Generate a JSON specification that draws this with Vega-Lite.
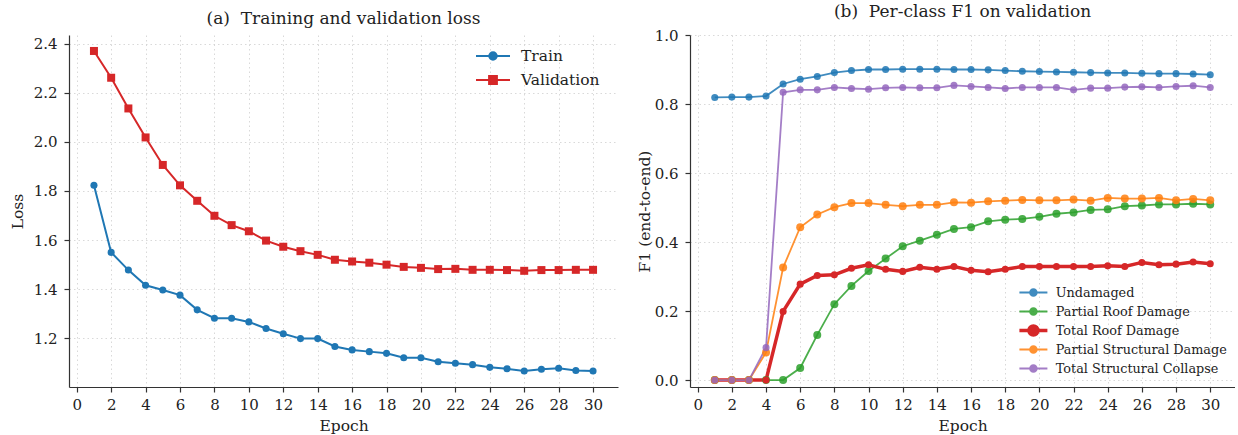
{
  "$schema": "https://vega.github.io/schema/vega-lite/v6.json",
  "padding": {"left": 10, "top": 3, "right": 0, "bottom": 0},
  "background": "white",
  "config": {
    "font": "DejaVu Serif",
    "view": {"stroke": null},
    "axis": {
      "domainColor": "#333333", "domainWidth": 1.2, "tickColor": "#333333", "tickWidth": 1.2, "tickSize": 5,
      "labelColor": "#222222", "titleColor": "#222222", "labelFont": "DejaVu Serif", "titleFont": "DejaVu Serif",
      "labelFontSize": 15, "titleFontSize": 15.5, "titleFontWeight": "normal", "labelPadding": 5,
      "gridColor": "#cfcfcf", "gridDash": [1.5, 3], "gridWidth": 0.8, "labelFlush": false, "labelOverlap": false
    },
    "legend": {"labelFont": "DejaVu Serif", "labelColor": "#222222", "labelLimit": 400},
    "title": {"font": "DejaVu Serif", "fontSize": 17, "fontWeight": "normal", "color": "#222222", "anchor": "middle", "offset": 7}
  },
  "resolve": {"scale": {"color": "independent", "x": "independent", "y": "independent"}, "legend": {"color": "independent"}},
  "datasets": {
    "loss": [
      {"e":1,"s":"Train","v":1.823},{"e":2,"s":"Train","v":1.550},{"e":3,"s":"Train","v":1.478},{"e":4,"s":"Train","v":1.416},{"e":5,"s":"Train","v":1.397},
      {"e":6,"s":"Train","v":1.376},{"e":7,"s":"Train","v":1.316},{"e":8,"s":"Train","v":1.282},{"e":9,"s":"Train","v":1.282},{"e":10,"s":"Train","v":1.267},
      {"e":11,"s":"Train","v":1.240},{"e":12,"s":"Train","v":1.219},{"e":13,"s":"Train","v":1.199},{"e":14,"s":"Train","v":1.199},{"e":15,"s":"Train","v":1.167},
      {"e":16,"s":"Train","v":1.153},{"e":17,"s":"Train","v":1.146},{"e":18,"s":"Train","v":1.139},{"e":19,"s":"Train","v":1.121},{"e":20,"s":"Train","v":1.121},
      {"e":21,"s":"Train","v":1.105},{"e":22,"s":"Train","v":1.099},{"e":23,"s":"Train","v":1.093},{"e":24,"s":"Train","v":1.082},{"e":25,"s":"Train","v":1.076},
      {"e":26,"s":"Train","v":1.067},{"e":27,"s":"Train","v":1.074},{"e":28,"s":"Train","v":1.078},{"e":29,"s":"Train","v":1.069},{"e":30,"s":"Train","v":1.067},
      {"e":1,"s":"Validation","v":2.370},{"e":2,"s":"Validation","v":2.261},{"e":3,"s":"Validation","v":2.136},{"e":4,"s":"Validation","v":2.018},{"e":5,"s":"Validation","v":1.906},
      {"e":6,"s":"Validation","v":1.823},{"e":7,"s":"Validation","v":1.760},{"e":8,"s":"Validation","v":1.699},{"e":9,"s":"Validation","v":1.661},{"e":10,"s":"Validation","v":1.636},
      {"e":11,"s":"Validation","v":1.598},{"e":12,"s":"Validation","v":1.573},{"e":13,"s":"Validation","v":1.555},{"e":14,"s":"Validation","v":1.540},{"e":15,"s":"Validation","v":1.520},
      {"e":16,"s":"Validation","v":1.513},{"e":17,"s":"Validation","v":1.508},{"e":18,"s":"Validation","v":1.500},{"e":19,"s":"Validation","v":1.491},{"e":20,"s":"Validation","v":1.487},
      {"e":21,"s":"Validation","v":1.482},{"e":22,"s":"Validation","v":1.483},{"e":23,"s":"Validation","v":1.479},{"e":24,"s":"Validation","v":1.479},{"e":25,"s":"Validation","v":1.478},
      {"e":26,"s":"Validation","v":1.475},{"e":27,"s":"Validation","v":1.478},{"e":28,"s":"Validation","v":1.478},{"e":29,"s":"Validation","v":1.479},{"e":30,"s":"Validation","v":1.479}
    ],
    "f1": [
      {"e":1,"c":"Undamaged","v":0.819},{"e":2,"c":"Undamaged","v":0.820},{"e":3,"c":"Undamaged","v":0.820},{"e":4,"c":"Undamaged","v":0.823},{"e":5,"c":"Undamaged","v":0.858},
      {"e":6,"c":"Undamaged","v":0.872},{"e":7,"c":"Undamaged","v":0.880},{"e":8,"c":"Undamaged","v":0.891},{"e":9,"c":"Undamaged","v":0.897},{"e":10,"c":"Undamaged","v":0.900},
      {"e":11,"c":"Undamaged","v":0.900},{"e":12,"c":"Undamaged","v":0.901},{"e":13,"c":"Undamaged","v":0.901},{"e":14,"c":"Undamaged","v":0.901},{"e":15,"c":"Undamaged","v":0.900},
      {"e":16,"c":"Undamaged","v":0.900},{"e":17,"c":"Undamaged","v":0.899},{"e":18,"c":"Undamaged","v":0.897},{"e":19,"c":"Undamaged","v":0.895},{"e":20,"c":"Undamaged","v":0.894},
      {"e":21,"c":"Undamaged","v":0.893},{"e":22,"c":"Undamaged","v":0.892},{"e":23,"c":"Undamaged","v":0.891},{"e":24,"c":"Undamaged","v":0.890},{"e":25,"c":"Undamaged","v":0.890},
      {"e":26,"c":"Undamaged","v":0.889},{"e":27,"c":"Undamaged","v":0.888},{"e":28,"c":"Undamaged","v":0.888},{"e":29,"c":"Undamaged","v":0.887},{"e":30,"c":"Undamaged","v":0.885},
      {"e":1,"c":"Partial Roof Damage","v":0},{"e":2,"c":"Partial Roof Damage","v":0},{"e":3,"c":"Partial Roof Damage","v":0},{"e":4,"c":"Partial Roof Damage","v":0},{"e":5,"c":"Partial Roof Damage","v":0},
      {"e":6,"c":"Partial Roof Damage","v":0.035},{"e":7,"c":"Partial Roof Damage","v":0.131},{"e":8,"c":"Partial Roof Damage","v":0.220},{"e":9,"c":"Partial Roof Damage","v":0.273},{"e":10,"c":"Partial Roof Damage","v":0.316},
      {"e":11,"c":"Partial Roof Damage","v":0.352},{"e":12,"c":"Partial Roof Damage","v":0.388},{"e":13,"c":"Partial Roof Damage","v":0.404},{"e":14,"c":"Partial Roof Damage","v":0.421},{"e":15,"c":"Partial Roof Damage","v":0.438},
      {"e":16,"c":"Partial Roof Damage","v":0.443},{"e":17,"c":"Partial Roof Damage","v":0.460},{"e":18,"c":"Partial Roof Damage","v":0.465},{"e":19,"c":"Partial Roof Damage","v":0.467},{"e":20,"c":"Partial Roof Damage","v":0.473},
      {"e":21,"c":"Partial Roof Damage","v":0.482},{"e":22,"c":"Partial Roof Damage","v":0.486},{"e":23,"c":"Partial Roof Damage","v":0.493},{"e":24,"c":"Partial Roof Damage","v":0.495},{"e":25,"c":"Partial Roof Damage","v":0.504},
      {"e":26,"c":"Partial Roof Damage","v":0.506},{"e":27,"c":"Partial Roof Damage","v":0.509},{"e":28,"c":"Partial Roof Damage","v":0.509},{"e":29,"c":"Partial Roof Damage","v":0.511},{"e":30,"c":"Partial Roof Damage","v":0.509},
      {"e":1,"c":"Total Roof Damage","v":0},{"e":2,"c":"Total Roof Damage","v":0},{"e":3,"c":"Total Roof Damage","v":0},{"e":4,"c":"Total Roof Damage","v":0},{"e":5,"c":"Total Roof Damage","v":0.199},
      {"e":6,"c":"Total Roof Damage","v":0.278},{"e":7,"c":"Total Roof Damage","v":0.303},{"e":8,"c":"Total Roof Damage","v":0.305},{"e":9,"c":"Total Roof Damage","v":0.324},{"e":10,"c":"Total Roof Damage","v":0.334},
      {"e":11,"c":"Total Roof Damage","v":0.321},{"e":12,"c":"Total Roof Damage","v":0.315},{"e":13,"c":"Total Roof Damage","v":0.327},{"e":14,"c":"Total Roof Damage","v":0.321},{"e":15,"c":"Total Roof Damage","v":0.329},
      {"e":16,"c":"Total Roof Damage","v":0.318},{"e":17,"c":"Total Roof Damage","v":0.314},{"e":18,"c":"Total Roof Damage","v":0.321},{"e":19,"c":"Total Roof Damage","v":0.329},{"e":20,"c":"Total Roof Damage","v":0.329},
      {"e":21,"c":"Total Roof Damage","v":0.329},{"e":22,"c":"Total Roof Damage","v":0.329},{"e":23,"c":"Total Roof Damage","v":0.329},{"e":24,"c":"Total Roof Damage","v":0.331},{"e":25,"c":"Total Roof Damage","v":0.329},
      {"e":26,"c":"Total Roof Damage","v":0.341},{"e":27,"c":"Total Roof Damage","v":0.334},{"e":28,"c":"Total Roof Damage","v":0.336},{"e":29,"c":"Total Roof Damage","v":0.342},{"e":30,"c":"Total Roof Damage","v":0.337},
      {"e":1,"c":"Partial Structural Damage","v":0},{"e":2,"c":"Partial Structural Damage","v":0},{"e":3,"c":"Partial Structural Damage","v":0},{"e":4,"c":"Partial Structural Damage","v":0.080},{"e":5,"c":"Partial Structural Damage","v":0.326},
      {"e":6,"c":"Partial Structural Damage","v":0.443},{"e":7,"c":"Partial Structural Damage","v":0.480},{"e":8,"c":"Partial Structural Damage","v":0.501},{"e":9,"c":"Partial Structural Damage","v":0.513},{"e":10,"c":"Partial Structural Damage","v":0.513},
      {"e":11,"c":"Partial Structural Damage","v":0.508},{"e":12,"c":"Partial Structural Damage","v":0.504},{"e":13,"c":"Partial Structural Damage","v":0.508},{"e":14,"c":"Partial Structural Damage","v":0.508},{"e":15,"c":"Partial Structural Damage","v":0.515},
      {"e":16,"c":"Partial Structural Damage","v":0.514},{"e":17,"c":"Partial Structural Damage","v":0.518},{"e":18,"c":"Partial Structural Damage","v":0.520},{"e":19,"c":"Partial Structural Damage","v":0.522},{"e":20,"c":"Partial Structural Damage","v":0.521},
      {"e":21,"c":"Partial Structural Damage","v":0.521},{"e":22,"c":"Partial Structural Damage","v":0.523},{"e":23,"c":"Partial Structural Damage","v":0.520},{"e":24,"c":"Partial Structural Damage","v":0.528},{"e":25,"c":"Partial Structural Damage","v":0.526},
      {"e":26,"c":"Partial Structural Damage","v":0.526},{"e":27,"c":"Partial Structural Damage","v":0.528},{"e":28,"c":"Partial Structural Damage","v":0.521},{"e":29,"c":"Partial Structural Damage","v":0.525},{"e":30,"c":"Partial Structural Damage","v":0.521},
      {"e":1,"c":"Total Structural Collapse","v":0},{"e":2,"c":"Total Structural Collapse","v":0},{"e":3,"c":"Total Structural Collapse","v":0},{"e":4,"c":"Total Structural Collapse","v":0.094},{"e":5,"c":"Total Structural Collapse","v":0.834},
      {"e":6,"c":"Total Structural Collapse","v":0.841},{"e":7,"c":"Total Structural Collapse","v":0.841},{"e":8,"c":"Total Structural Collapse","v":0.848},{"e":9,"c":"Total Structural Collapse","v":0.845},{"e":10,"c":"Total Structural Collapse","v":0.843},
      {"e":11,"c":"Total Structural Collapse","v":0.847},{"e":12,"c":"Total Structural Collapse","v":0.848},{"e":13,"c":"Total Structural Collapse","v":0.847},{"e":14,"c":"Total Structural Collapse","v":0.847},{"e":15,"c":"Total Structural Collapse","v":0.854},
      {"e":16,"c":"Total Structural Collapse","v":0.851},{"e":17,"c":"Total Structural Collapse","v":0.848},{"e":18,"c":"Total Structural Collapse","v":0.845},{"e":19,"c":"Total Structural Collapse","v":0.848},{"e":20,"c":"Total Structural Collapse","v":0.848},
      {"e":21,"c":"Total Structural Collapse","v":0.848},{"e":22,"c":"Total Structural Collapse","v":0.841},{"e":23,"c":"Total Structural Collapse","v":0.846},{"e":24,"c":"Total Structural Collapse","v":0.846},{"e":25,"c":"Total Structural Collapse","v":0.849},
      {"e":26,"c":"Total Structural Collapse","v":0.850},{"e":27,"c":"Total Structural Collapse","v":0.848},{"e":28,"c":"Total Structural Collapse","v":0.851},{"e":29,"c":"Total Structural Collapse","v":0.853},{"e":30,"c":"Total Structural Collapse","v":0.848}
    ]
  },
  "bounds": "flush",
  "spacing": 72,
  "hconcat": [
    {
      "width": 549,
      "height": 352,
      "title": {"text": "(a)\u00a0 Training and validation loss"},
      "data": {"name": "loss"},
      "encoding": {
        "x": {"field": "e", "type": "quantitative", "scale": {"domain": [-0.45, 31.45], "nice": false, "zero": false},
              "axis": {"title": "Epoch", "values": [0,2,4,6,8,10,12,14,16,18,20,22,24,26,28,30], "titlePadding": 6}},
        "y": {"field": "v", "type": "quantitative", "scale": {"domain": [1.002, 2.435], "nice": false, "zero": false},
              "axis": {"title": "Loss", "values": [1.2,1.4,1.6,1.8,2.0,2.2,2.4], "format": ".1f", "titlePadding": 8, "labelPadding": 7}},
        "color": {"field": "s", "type": "nominal", "scale": {"domain": ["Train", "Validation"], "range": ["#1f77b4", "#d62728"]},
                  "legend": {"title": null, "orient": "none", "legendX": 406, "legendY": 9, "padding": 0, "labelFontSize": 15.5, "labelOffset": 10,
                             "symbolSize": 1156, "clipHeight": 24, "rowPadding": 0, "symbolStrokeWidth": 2,
                             "encode": {"symbols": {"update": {
                               "shape": {"signal": "datum.value === 'Train' ? 'M-1,0H1M0.22,0A0.22,0.22,0,1,1,-0.22,0A0.22,0.22,0,1,1,0.22,0Z' : 'M-1,0H1M-0.23,-0.23H0.23V0.23H-0.23Z'"},
                               "size": {"value": 1156},
                               "fill": {"signal": "datum.value === 'Train' ? '#1f77b4' : '#d62728'"},
                               "stroke": {"signal": "datum.value === 'Train' ? '#1f77b4' : '#d62728'"},
                               "strokeWidth": {"value": 2},
                               "opacity": {"value": 1}
                             }}}}}
      },
      "layer": [
        {"mark": {"type": "line", "strokeWidth": 2}},
        {"mark": {"type": "point", "filled": true, "opacity": 1, "strokeWidth": 0},
         "encoding": {"shape": {"field": "s", "type": "nominal", "scale": {"type": "ordinal", "domain": ["Train", "Validation"], "range": ["circle", "square"]}, "legend": null},
                      "size": {"field": "s", "type": "nominal", "scale": {"type": "ordinal", "domain": ["Train", "Validation"], "range": [50, 64]}, "legend": null}}}
      ]
    },
    {
      "width": 545,
      "height": 352,
      "title": {"text": "(b)\u00a0 Per-class F1 on validation"},
      "data": {"name": "f1"},
      "encoding": {
        "x": {"field": "e", "type": "quantitative", "scale": {"domain": [-0.45, 31.45], "nice": false, "zero": false},
              "axis": {"title": "Epoch", "values": [0,2,4,6,8,10,12,14,16,18,20,22,24,26,28,30], "titlePadding": 6}},
        "y": {"field": "v", "type": "quantitative", "scale": {"domain": [-0.02, 1.0], "nice": false, "zero": false},
              "axis": {"title": "F1 (end-to-end)", "values": [0,0.2,0.4,0.6,0.8,1.0], "format": ".1f", "titlePadding": 2, "labelPadding": 7}},
        "color": {"field": "c", "type": "nominal",
                  "scale": {"domain": ["Undamaged", "Partial Roof Damage", "Total Roof Damage", "Partial Structural Damage", "Total Structural Collapse"],
                            "range": ["#1f77b4", "#2ca02c", "#d62728", "#ff7f0e", "#9467bd"]},
                  "legend": {"title": null, "orient": "none", "legendX": 327, "legendY": 248, "padding": 0, "labelFontSize": 12.8, "labelOffset": 16,
                             "symbolSize": 784, "symbolOffset": 10, "clipHeight": 19, "rowPadding": 0,
                             "encode": {"symbols": {"update": {
                               "shape": {"signal": "datum.value === 'Total Roof Damage' ? 'M-1,0H1M0.32,0A0.32,0.32,0,1,1,-0.32,0A0.32,0.32,0,1,1,0.32,0Z' : 'M-1,0H1M0.24,0A0.24,0.24,0,1,1,-0.24,0A0.24,0.24,0,1,1,0.24,0Z'"},
                               "size": {"value": 784},
                               "fill": {"signal": "{'Undamaged':'#1f77b4','Partial Roof Damage':'#2ca02c','Total Roof Damage':'#d62728','Partial Structural Damage':'#ff7f0e','Total Structural Collapse':'#9467bd'}[datum.value]"},
                               "stroke": {"signal": "{'Undamaged':'#1f77b4','Partial Roof Damage':'#2ca02c','Total Roof Damage':'#d62728','Partial Structural Damage':'#ff7f0e','Total Structural Collapse':'#9467bd'}[datum.value]"},
                               "strokeWidth": {"signal": "datum.value === 'Total Roof Damage' ? 3.5 : 1.8"},
                               "opacity": {"signal": "datum.value === 'Total Roof Damage' ? 1 : 0.85"}
                             }}}}}
      },
      "layer": [
        {"mark": {"type": "line"},
         "encoding": {"strokeWidth": {"field": "c", "type": "nominal", "scale": {"type": "ordinal", "domain": ["Undamaged", "Partial Roof Damage", "Total Roof Damage", "Partial Structural Damage", "Total Structural Collapse"], "range": [1.8, 1.8, 3.5, 1.8, 1.8]}, "legend": null},
                      "opacity": {"field": "c", "type": "nominal", "scale": {"type": "ordinal", "domain": ["Undamaged", "Partial Roof Damage", "Total Roof Damage", "Partial Structural Damage", "Total Structural Collapse"], "range": [0.85, 0.85, 1, 0.85, 0.85]}, "legend": null}}},
        {"mark": {"type": "point", "filled": true, "shape": "circle", "strokeWidth": 0},
         "encoding": {"size": {"field": "c", "type": "nominal", "scale": {"type": "ordinal", "domain": ["Undamaged", "Partial Roof Damage", "Total Roof Damage", "Partial Structural Damage", "Total Structural Collapse"], "range": [44, 44, 80, 44, 44]}, "legend": null},
                      "opacity": {"field": "c", "type": "nominal", "scale": {"type": "ordinal", "domain": ["Undamaged", "Partial Roof Damage", "Total Roof Damage", "Partial Structural Damage", "Total Structural Collapse"], "range": [0.85, 0.85, 1, 0.85, 0.85]}, "legend": null}}}
      ]
    }
  ]
}
